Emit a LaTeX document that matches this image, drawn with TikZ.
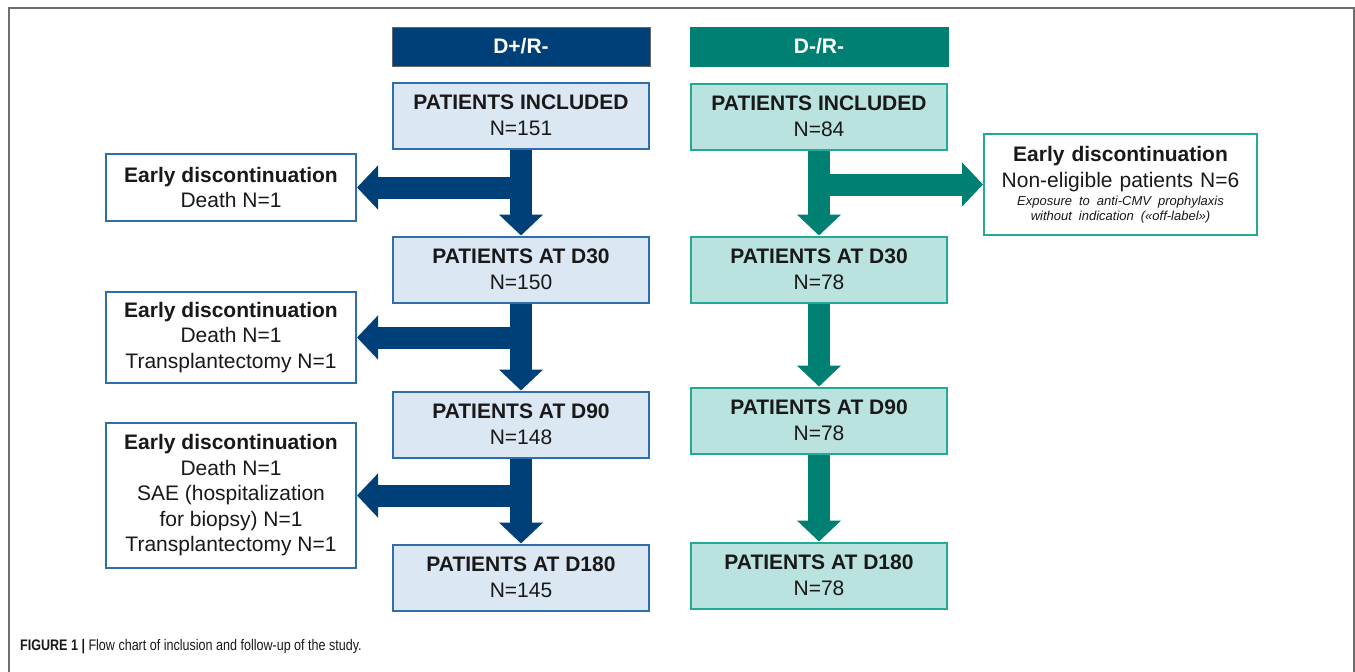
\documentclass[tikz,border=0pt]{standalone}
\usepackage{fontspec}
\setmainfont{Liberation Sans}
\newfontfamily\capfont[FakeStretch=0.82]{Liberation Sans}
\usepackage{tikz}
\usetikzlibrary{positioning, arrows.meta, backgrounds}
\definecolor{navyD}{RGB}{0,64,120}
\definecolor{blueB}{RGB}{46,110,170}
\definecolor{blueF}{RGB}{220,231,244}
\definecolor{tealD}{RGB}{0,128,114}
\definecolor{tealB}{RGB}{38,168,150}
\definecolor{tealF}{RGB}{186,227,223}
\definecolor{inkT}{RGB}{25,25,25}
\definecolor{frameG}{RGB}{110,110,110}
\newcommand{\bodyfont}{\fontsize{21}{25.5}\selectfont}
\tikzstyle{headL} = [rectangle, minimum width=258pt, minimum height=39pt, inner sep=0pt, text centered, draw=black!60, line width=1pt, fill=navyD, text=white, font=\bodyfont\bfseries]
\tikzstyle{headR} = [headL, draw=tealD, fill=tealD]
\tikzstyle{boxL} = [rectangle, minimum width=256pt, minimum height=66pt, inner sep=0pt, align=center, draw=blueB, line width=2pt, fill=blueF, text=inkT, font=\bodyfont]
\tikzstyle{boxR} = [boxL, draw=tealB, fill=tealF]
\tikzstyle{sideL} = [rectangle, minimum width=250pt, inner sep=0pt, align=center, draw=blueB, line width=2pt, fill=white, text=inkT, font=\bodyfont]
\tikzstyle{sideR} = [sideL, draw=tealB, minimum width=273pt, text width=270pt]
\tikzstyle{arrowL} = [line width=22pt, navyD, -{Triangle[length=21pt, width=43pt]}]
\tikzstyle{arrowR} = [arrowL, tealD]
\begin{document}
\begin{tikzpicture}[x=1pt, y=-1pt]
        \useasboundingbox (0,0) rectangle (1355,672);
        \draw[frameG, line width=1.5pt] (9,672) |- (1354,8) -- (1354,672);

        % D+/R- column
        \node[headL]                       (head A) at (521,46.5) {D+/R-};
        \node[boxL, below=15pt of head A]  (inc A)  {\textbf{PATIENTS INCLUDED}\\N=151};
        \node[boxL, below=86pt of inc A]   (d30 A)  {\textbf{PATIENTS AT D30}\\N=150};
        \node[boxL, below=87pt of d30 A]   (d90 A)  {\textbf{PATIENTS AT D90}\\N=148};
        \node[boxL, below=85pt of d90 A]   (d180 A) {\textbf{PATIENTS AT D180}\\N=145};

        \node[sideL, minimum height=67pt]  (out 1) at (231,187.5) {\textbf{Early discontinuation}\\Death N=1};
        \node[sideL, minimum height=91pt]  (out 2) at (231,337.5) {\textbf{Early discontinuation}\\Death N=1\\Transplantectomy N=1};
        \node[sideL, minimum height=145pt] (out 3) at (231,495.5) {\textbf{Early discontinuation}\\Death N=1\\SAE (hospitalization\\for biopsy) N=1\\Transplantectomy N=1};

        % D-/R- column
        \node[headR, right=39pt of head A] (head B) {D-/R-};
        \node[boxR, below=16pt of head B]  (inc B)  {\textbf{PATIENTS INCLUDED}\\N=84};
        \node[boxR, below=85pt of inc B]   (d30 B)  {\textbf{PATIENTS AT D30}\\N=78};
        \node[boxR, below=83pt of d30 B]   (d90 B)  {\textbf{PATIENTS AT D90}\\N=78};
        \node[boxR, below=87pt of d90 B]   (d180 B) {\textbf{PATIENTS AT D180}\\N=78};

        \node[sideR, minimum height=101pt] (out 4) at (1120.5,184.5) {\textbf{Early discontinuation}\par Non-eligible patients N=6\par\vspace{4pt}
            {\fontsize{13}{14.5}\selectfont\itshape Exposure to anti-CMV prophylaxis\par without indication («off-label»)\par}};

        \node[anchor=base west, text=inkT, font=\capfont\fontsize{15.3}{18}\selectfont, inner sep=0pt] (caption) at (20,650)
            {\textbf{FIGURE 1 |} Flow chart of inclusion and follow-up of the study.};

        \begin{scope}[on background layer]
            \draw[arrowL] (inc A)  -- (d30 A);
            \draw[arrowL] (d30 A)  -- (d90 A);
            \draw[arrowL] (d90 A)  -- (d180 A);
            \draw[arrowL] (out 1.east -| inc A.south) -- (out 1.east);
            \draw[arrowL] (out 2.east -| d30 A.south) -- (out 2.east);
            \draw[arrowL] (out 3.east -| d90 A.south) -- (out 3.east);

            \draw[arrowR] (inc B)  -- (d30 B);
            \draw[arrowR] (d30 B)  -- (d90 B);
            \draw[arrowR] (d90 B)  -- (d180 B);
            \draw[arrowR] (out 4.west -| inc B.south) -- (out 4.west);
        \end{scope}
    \end{tikzpicture}
\end{document}
